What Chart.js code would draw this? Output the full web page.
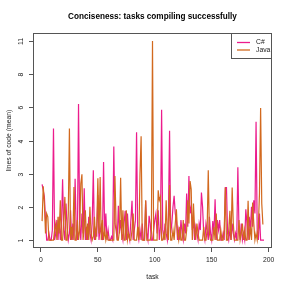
<!DOCTYPE html>
<html>
<head>
<meta charset="utf-8">
<script src="https://cdn.jsdelivr.net/npm/chart.js@4/dist/chart.umd.min.js"></script>
<style>
  html, body { margin: 0; padding: 0; background: #fff; }
  canvas { display: block; }
</style>
</head>
<body>
<canvas id="chart" width="291" height="291"></canvas>
<script>
// mean lines of code per task
const csharp = [
  2.68, 2.5, 2.3, 1.6, 1, 1, 1.2, 1, 1, 1.3,
  4.73, 1, 1.2, 1.6, 1, 1.7, 1, 1.4, 2.83, 1.3,
  1, 2.1, 1.4, 1, 1.2, 1.9, 1, 1.5, 1, 2.85,
  1.3, 1, 6.2, 1.5, 1, 1.8, 1.2, 2.56, 1, 1.4,
  1, 1.7, 1.2, 1, 1.5, 3.1, 1, 1.3, 1.1, 2.36,
  1, 1.4, 1.2, 1, 3.35, 1.2, 1.8, 1, 1.3, 1,
  1, 1.1, 1, 3.82, 1.5, 1.3, 1, 2.03, 1.2, 1.6,
  1.2, 1, 1.5, 1.88, 1, 1.8, 1.2, 1, 1.6, 2.18,
  1, 1.3, 1.6, 4.49, 1.2, 1, 1.3, 1, 1.5, 1,
  1, 2.18, 1.2, 1, 1.73, 1.5, 1, 1, 1.3, 1.6,
  1.8, 1.2, 1.9, 1, 1.4, 5.86, 1.3, 1, 1.5, 1.2,
  1, 1.7, 4.58, 1.2, 1.5, 2.0, 2.33, 1.8, 1.6, 1,
  1.3, 1, 1.6, 1.2, 1, 1.5, 1.2, 2.4, 1.4, 2.93,
  1.8, 2.0, 1.3, 1.6, 1, 1.4, 1.2, 1, 1.5, 1.3,
  2.43, 2.0, 1.2, 1, 1.5, 1.3, 1, 1.7, 1.2, 1,
  1.57, 1.2, 2.23, 1, 1.6, 1.3, 1.6, 1, 1, 1.2,
  1, 2.58, 2.58, 1.2, 1, 1.3, 1, 1.5, 1.2, 1,
  1.2, 1, 3.19, 1.3, 1, 1.5, 1, 1.2, 1, 1.93,
  1.5, 1, 1.7, 1.3, 2.0, 1.4, 2.2, 1.8, 5.13, 1.3,
  1, 1.8, 1, 1, 1, 1
];
const java = [
  1.57, 2.62, 2.1, 1.2, 1.8, 1.7, 1, 1, 1, 1,
  1, 1.3, 1.5, 1, 1.7, 1.2, 2.2, 1, 1, 1.6,
  2.3, 1, 1, 1.8, 4.73, 1, 1.4, 1, 2.6, 1,
  1, 1.6, 1, 1.3, 2.7, 2.98, 1, 1.4, 1.9, 1,
  1.5, 1, 2.0, 1.2, 1, 1.1, 1.7, 1, 1.4, 2.86,
  1.2, 2.9, 1, 1.6, 1, 1.3, 1, 1.2, 1, 1,
  1, 1, 1, 1, 2.93, 1.5, 1, 1, 1.3, 2.88,
  1, 1.9, 1, 1, 1.9, 1, 1.2, 1, 1, 1.3,
  1.8, 1, 1, 1, 1.4, 1, 2.98, 4.25, 1, 1,
  1, 2.2, 1, 1, 1, 1, 1.2, 11, 1, 1,
  1, 1, 2.5, 2.2, 2.3, 1, 1, 1.2, 1, 2.2,
  1.2, 1, 2.66, 1, 1, 1.3, 1, 1.5, 1.93, 1.2,
  1, 1.4, 1, 1, 1.6, 1, 1, 1.3, 2.2, 1.5,
  2.78, 2.53, 1, 2.1, 1.3, 1, 1.5, 1.2, 1, 1,
  1, 1, 1.4, 1, 1, 1.3, 3.1, 1.2, 1, 1,
  1, 1.4, 1, 1.8, 1, 1, 1, 1.3, 1, 1,
  1.3, 2.58, 1, 1, 1.3, 1.88, 1, 2.58, 1.5, 1,
  1, 1, 1, 1.6, 1, 1.2, 1.5, 1, 1.3, 1,
  1, 2.18, 1, 1.4, 1, 2.13, 1.5, 1, 1.2, 1,
  1.4, 2.4, 5.96, 2.1, 1.47
];

const seriesNames = ['C#', 'Java'];
const xTicks = [0, 50, 100, 150, 200];
// the y axis labels sit at equal steps
const yTickLabels = [1, 2, 3, 4, 6, 8, 11];

const FONT = "'Liberation Sans', Arial, Helvetica, sans-serif";
const colors = ['#EC1C8C', '#D2691E'];

// value -> position on the evenly spaced label axis
function toAxis(v) {
    for (let i = 0; i < yTickLabels.length - 1; i++) {
        const a = yTickLabels[i], b = yTickLabels[i + 1];
        if (v <= b) return i + (v - a) / (b - a);
    }
    return yTickLabels.length - 1;
}

function toPoints(arr) {
    return arr.map((v, i) => ({ x: i + 1, y: toAxis(v) }));
}

// frame, y ticks, axis titles, title and legend, drawn R-style
const decor = {
    id: 'decor',
    afterDraw(chart) {
        const { ctx, chartArea: a, scales } = chart;
        const y = scales.y;
        ctx.save();
        ctx.strokeStyle = '#555';
        ctx.lineWidth = 1;
        ctx.strokeRect(a.left + 0.5, a.top + 0.5, a.right - a.left - 1, a.bottom - a.top - 1);

        ctx.fillStyle = '#222';
        ctx.font = '6.8px ' + FONT;
        ctx.textAlign = 'center';
        ctx.textBaseline = 'middle';
        yTickLabels.forEach((lab, i) => {
            const py = Math.round(y.getPixelForValue(i)) + 0.5;
            ctx.beginPath();
            ctx.moveTo(a.left - 4, py);
            ctx.lineTo(a.left + 0.5, py);
            ctx.stroke();
            ctx.save();
            ctx.translate(21, py);
            ctx.rotate(-Math.PI / 2);
            ctx.fillText(String(lab), 0, 0);
            ctx.restore();
        });

        const cx = (a.left + a.right) / 2;
        ctx.fillText('task', cx, 277);
        ctx.save();
        ctx.translate(9, (a.top + a.bottom) / 2);
        ctx.rotate(-Math.PI / 2);
        ctx.fillText('lines of code (mean)', 0, 0);
        ctx.restore();

        ctx.font = 'bold 8.2px ' + FONT;
        ctx.fillStyle = '#000';
        ctx.fillText('Conciseness: tasks compiling successfully', cx, 17);

        // legend box in the top right corner
        const lx = 231, lw = a.right - lx, lh = 25;
        ctx.fillStyle = '#fff';
        ctx.fillRect(lx, a.top, lw, lh);
        ctx.strokeStyle = '#555';
        ctx.strokeRect(lx + 0.5, a.top + 0.5, lw - 1, lh);
        ctx.font = '6.8px ' + FONT;
        ctx.textAlign = 'left';
        chart.data.datasets.forEach((ds, i) => {
            const ly = a.top + 9.5 + i * 7.5;
            ctx.strokeStyle = ds.borderColor;
            ctx.lineWidth = 1.3;
            ctx.beginPath();
            ctx.moveTo(237, ly);
            ctx.lineTo(250, ly);
            ctx.stroke();
            ctx.fillStyle = '#222';
            ctx.fillText(ds.label, 256, ly);
        });
        ctx.restore();
    }
};

new Chart(document.getElementById('chart'), {
    type: 'line',
    data: {
        datasets: [
            { label: seriesNames[0], data: toPoints(csharp), borderColor: colors[0], order: 1 },
            { label: seriesNames[1], data: toPoints(java), borderColor: colors[1], order: 0 }
        ]
    },
    options: {
        responsive: false,
        animation: false,
        devicePixelRatio: 1,
        layout: { padding: { left: 0, right: 19, top: 33, bottom: 0 } },
        elements: {
            point: { radius: 0 },
            line: { borderWidth: 1.2, tension: 0 }
        },
        plugins: {
            legend: { display: false },
            title: { display: false },
            tooltip: { enabled: false }
        },
        scales: {
            x: {
                type: 'linear',
                min: -7,
                max: 203,
                afterBuildTicks: s => { s.ticks = xTicks.map(v => ({ value: v })); },
                afterFit: s => { s.height = 43; },
                grid: { drawOnChartArea: false, drawTicks: true, tickLength: 4, color: '#555' },
                border: { display: false },
                ticks: { color: '#222', font: { family: FONT, size: 6.8 }, padding: 4, maxRotation: 0 }
            },
            y: {
                type: 'linear',
                min: -0.24,
                max: 6.24,
                afterBuildTicks: s => { s.ticks = yTickLabels.map((_, i) => ({ value: i })); },
                afterFit: s => { s.width = 33; },
                grid: { display: false },
                border: { display: false },
                ticks: { display: false }
            }
        }
    },
    plugins: [decor]
});
</script>
</body>
</html>
